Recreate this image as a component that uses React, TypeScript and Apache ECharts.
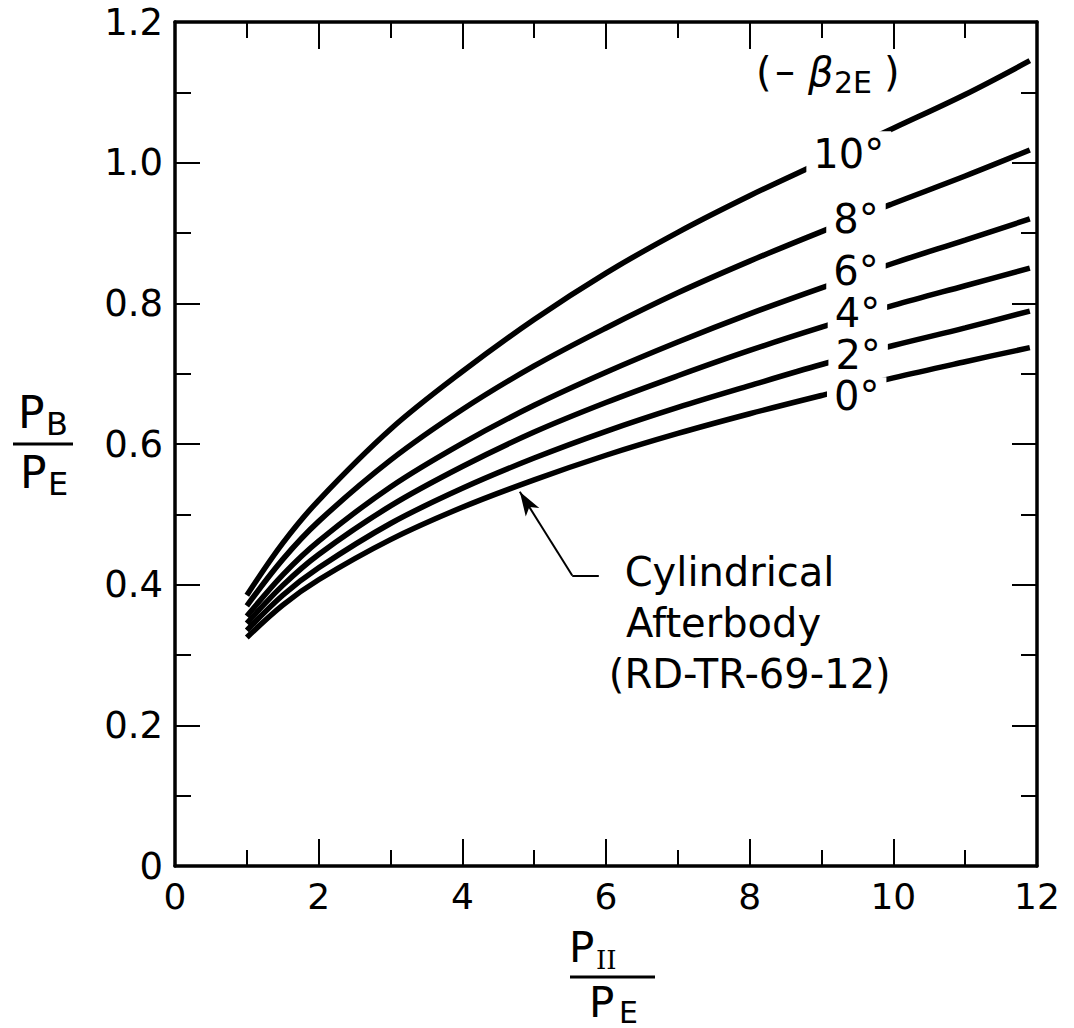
import React, { useEffect, useRef } from "react";
import * as echarts from "echarts";

// Pressure ratio P_II / P_E (abscissa) at which each curve is sampled
const PRESSURE_RATIO = [1, 1.5, 2, 3, 4, 5, 6, 7, 8, 9, 10, 11, 11.9];

// Base pressure ratio P_B / P_E for each exit angle (-β2E)
const BETA_10 = [0.385, 0.459, 0.52, 0.621, 0.703, 0.777, 0.843, 0.901, 0.953, 1.001, 1.049, 1.097, 1.145];
const BETA_8 = [0.37, 0.436, 0.49, 0.577, 0.649, 0.711, 0.765, 0.815, 0.86, 0.902, 0.942, 0.981, 1.018];
const BETA_6 = [0.355, 0.414, 0.462, 0.539, 0.601, 0.655, 0.702, 0.745, 0.785, 0.822, 0.857, 0.89, 0.92];
const BETA_4 = [0.345, 0.399, 0.443, 0.512, 0.568, 0.617, 0.659, 0.697, 0.733, 0.766, 0.797, 0.825, 0.85];
const BETA_2 = [0.335, 0.385, 0.424, 0.487, 0.537, 0.58, 0.618, 0.652, 0.683, 0.713, 0.74, 0.765, 0.789];
const BETA_0 = [0.325, 0.371, 0.407, 0.464, 0.51, 0.549, 0.584, 0.615, 0.643, 0.669, 0.694, 0.717, 0.737];

const CURVES = [BETA_10, BETA_8, BETA_6, BETA_4, BETA_2, BETA_0];
const ANGLE_LABELS = ["10°", "8°", "6°", "4°", "2°", "0°"];

// Where each angle label sits on its curve (x, y in data units)
const ANGLE_LABEL_X = [9.38, 9.48, 9.48, 9.5, 9.51, 9.49];
const ANGLE_LABEL_Y = [1.012, 0.92, 0.846, 0.786, 0.727, 0.668];

// Axis tick settings
const X_MIN = 0;
const X_MAX = 12;
const X_STEP = 2;
const Y_MIN = 0;
const Y_MAX = 1.2;
const Y_STEP = 0.2;

// Note on the 0° curve and its anchor points (data units)
const NOTE_LINES = ["Cylindrical", "Afterbody", "(RD-TR-69-12)"];
const NOTE_X = [6.26, 6.28, 6.04];
const NOTE_Y = [0.418, 0.346, 0.273];

const FONT = '"DejaVu Sans", sans-serif';
const SERIF = '"DejaVu Serif", serif';
const INK = "#000";
const ANGLE_FONT = 40;

function makeXAxis(position: "bottom" | "top") {
  return {
    type: "value",
    position,
    min: X_MIN,
    max: X_MAX,
    interval: X_STEP,
    axisLine: { show: true, onZero: false, lineStyle: { color: INK, width: 3.5 } },
    axisTick: { show: true, inside: true, length: 27, lineStyle: { color: INK, width: 2 } },
    minorTick: { show: true, splitNumber: 2, length: 16, lineStyle: { color: INK, width: 2 } },
    splitLine: { show: false },
    minorSplitLine: { show: false },
    axisLabel: {
      show: position === "bottom",
      color: INK,
      fontSize: 36,
      fontFamily: FONT,
      margin: 12,
    },
  };
}

function makeYAxis(position: "left" | "right") {
  return {
    type: "value",
    position,
    min: Y_MIN,
    max: Y_MAX,
    interval: Y_STEP,
    axisLine: { show: true, onZero: false, lineStyle: { color: INK, width: 3.5 } },
    axisTick: { show: true, inside: true, length: 25, lineStyle: { color: INK, width: 2 } },
    minorTick: { show: true, splitNumber: 2, length: 16, lineStyle: { color: INK, width: 2 } },
    splitLine: { show: false },
    minorSplitLine: { show: false },
    axisLabel: {
      show: position === "left",
      color: INK,
      fontSize: 37,
      fontFamily: FONT,
      margin: 12,
      formatter: (v: number) => (Math.abs(v) < 1e-9 ? "0" : v.toFixed(1)),
    },
  };
}

function txt(text: string, x: number, y: number, size: number, opts: any = {}) {
  return {
    type: "text",
    x,
    y,
    silent: true,
    z: 20,
    style: {
      text,
      fill: INK,
      fontSize: size,
      fontFamily: opts.family || FONT,
      fontStyle: opts.italic ? "italic" : "normal",
      align: opts.align || "left",
      textAlign: opts.align || "left",
      verticalAlign: "middle",
      textVerticalAlign: "middle",
    },
  };
}

function bar(x1: number, x2: number, y: number) {
  return {
    type: "line",
    silent: true,
    shape: { x1, y1: y, x2, y2: y },
    style: { stroke: INK, lineWidth: 3 },
  };
}

// approximate advance width of an angle label in DejaVu Sans
function labelWidth(t: string, size: number) {
  let w = 0;
  for (const ch of t) w += ch === "°" ? 0.5 : 0.636;
  return w * size;
}

export default function App() {
  const ref = useRef<HTMLDivElement>(null);

  useEffect(() => {
    const el = ref.current;
    if (!el) return;
    const chart = echarts.init(el, null, { renderer: "svg" });

    const curveSeries = CURVES.map((vals, i) => ({
      type: "line",
      name: ANGLE_LABELS[i],
      data: PRESSURE_RATIO.map((x, j) => [x, vals[j]]),
      symbol: "none",
      smooth: 0.35,
      silent: true,
      z: 2,
      lineStyle: { color: INK, width: 5.5 },
    }));

    // Leader with arrowhead pointing at the 0° curve
    const leaderSeries = {
      type: "scatter",
      name: "leader",
      data: [],
      silent: true,
      markLine: {
        silent: true,
        animation: false,
        symbol: ["none", "none"],
        label: { show: false },
        lineStyle: { color: INK, width: 2, type: "solid" },
        data: [
          [{ coord: [5.9, 0.413] }, { coord: [5.53, 0.413] }],
          [
            { coord: [5.53, 0.413], symbol: "none" },
            { coord: [4.8, 0.532], symbol: "arrow", symbolSize: [12, 24] },
          ],
        ],
      },
    };

    const graphic: any[] = [
      // (-β2E) heading
      txt("(", 756, 72, 40),
      txt("–", 775, 71, 40),
      txt("β", 808, 72, 40, { italic: true }),
      txt("2E", 834, 82, 30),
      txt(")", 884, 72, 40),
      // y title  P_B / P_E
      txt("P", 18, 412, 44),
      txt("B", 46, 424, 32),
      bar(13, 73, 444),
      txt("P", 20, 472, 44),
      txt("E", 48, 484, 32),
      // x title  P_II / P_E
      txt("P", 569, 947, 42),
      txt("II", 596, 960, 26, { family: SERIF }),
      bar(570, 655, 977),
      txt("P", 589, 1002, 42),
      txt("E", 619, 1012, 30),
    ];

    chart.setOption({
      animation: false,
      backgroundColor: "#fff",
      grid: { left: 175, right: 37, top: 22, bottom: 162, containLabel: false },
      xAxis: [makeXAxis("bottom"), makeXAxis("top")],
      yAxis: [makeYAxis("left"), makeYAxis("right")],
      series: [...curveSeries, leaderSeries],
      graphic,
    });

    const toPx = (x: number, y: number) =>
      chart.convertToPixel({ xAxisIndex: 0, yAxisIndex: 0 }, [x, y]) as number[];

    // Angle labels break their curves: a white patch under each label
    const patches: any[] = [];
    const labels: any[] = [];
    ANGLE_LABELS.forEach((t, i) => {
      const p = toPx(ANGLE_LABEL_X[i], ANGLE_LABEL_Y[i]);
      const w = labelWidth(t, ANGLE_FONT) + 14;
      const h = i === 0 ? 46 : 38;
      patches.push({
        type: "rect",
        silent: true,
        z: 10,
        shape: { x: p[0] - w / 2, y: p[1] - h / 2, width: w, height: h },
        style: { fill: "#fff" },
      });
      labels.push(txt(t, p[0], p[1], ANGLE_FONT, { align: "center" }));
    });

    const notes = NOTE_LINES.map((t, i) => {
      const p = toPx(NOTE_X[i], NOTE_Y[i]);
      return txt(t, p[0], p[1], 40);
    });

    chart.setOption({ graphic: [...graphic, ...patches, ...labels, ...notes] });

    return () => chart.dispose();
  }, []);

  return (
    <div
      ref={ref}
      style={{ position: "fixed", left: 0, top: 0, width: 1074, height: 1028, background: "#fff" }}
    />
  );
}
